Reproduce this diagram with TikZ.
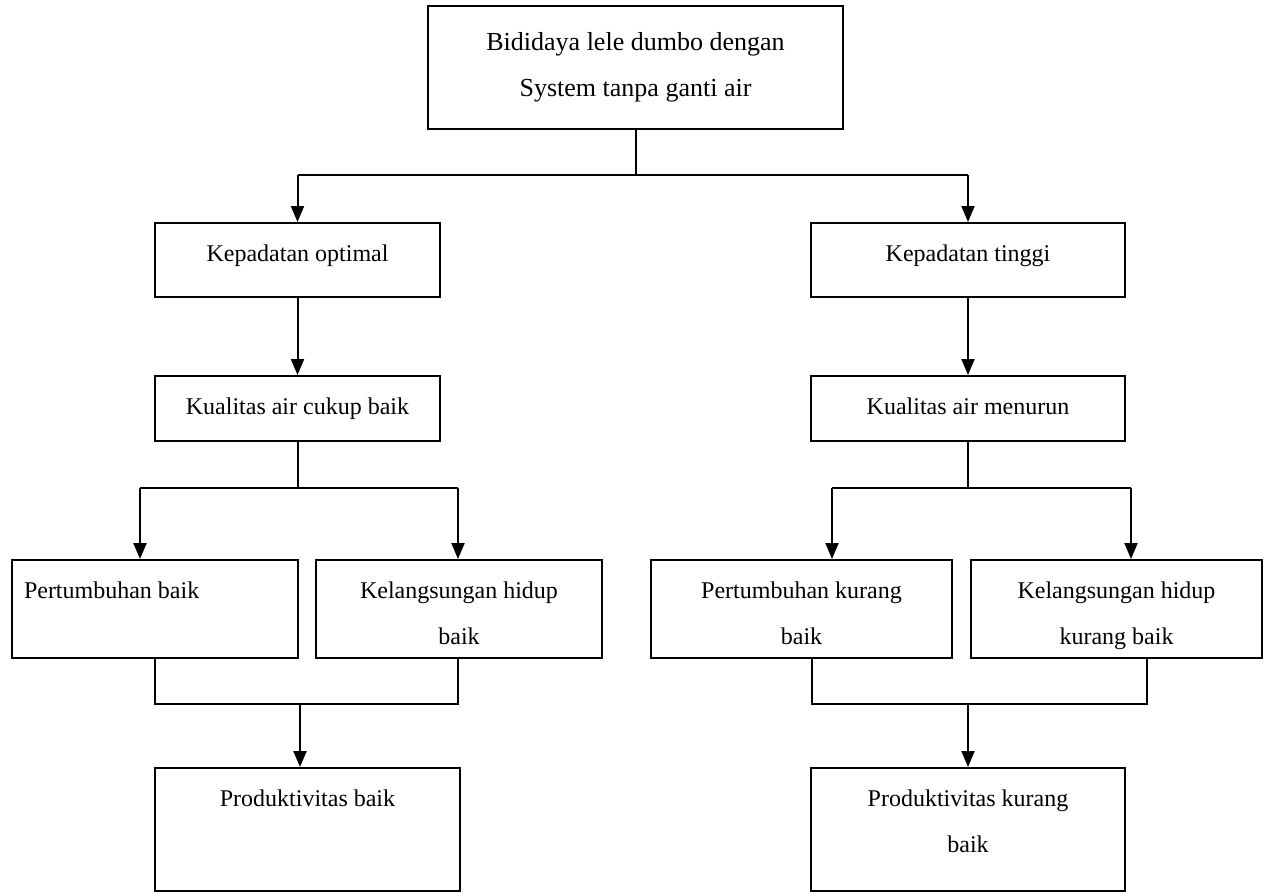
\documentclass[tikz,border=0pt]{standalone}
\usepackage{fontspec}
\setmainfont{Liberation Serif}
\usetikzlibrary{arrows.meta}

\tikzset{
	box/.style={draw,line width=1pt,inner sep=0pt,anchor=north},
	link/.style={line width=1pt},
	arr/.style={line width=1pt,-{Triangle[length=8pt,width=6.5pt]}},
}
\newcommand{\boxtext}[4][19pt]{\begin{minipage}[t][#3][t]{#2}\fontsize{12pt}{23pt}\selectfont\centering\rule{0pt}{#1}#4\end{minipage}}

\begin{document}
\begin{tikzpicture}[x=0.5pt,y=-0.5pt]
	\useasboundingbox (0,0) rectangle (1267,895);
	\node[box] (budidaya) at (635.5,5) {\boxtext[22pt]{207.5pt}{61.5pt}{\fontsize{13pt}{23pt}\selectfont Bididaya lele dumbo dengan\\System tanpa ganti air}};
	\node[box] (optimal) at (297.5,222) {\boxtext{142.5pt}{37pt}{Kepadatan optimal}};
	\node[box] (tinggi) at (968,222) {\boxtext{157pt}{37pt}{Kepadatan tinggi}};
	\node[box] (airbaik) at (297.5,375) {\boxtext{142.5pt}{32.5pt}{Kualitas air cukup baik}};
	\node[box] (airturun) at (968,375) {\boxtext{157pt}{32.5pt}{Kualitas air menurun}};
	\node[box] (tumbuhbaik) at (155,559) {\boxtext{143pt}{49pt}{\raggedright\hspace*{6pt}Pertumbuhan baik}};
	\node[box] (hidupbaik) at (459,559) {\boxtext{143pt}{49pt}{Kelangsungan hidup\\baik}};
	\node[box] (tumbuhkurang) at (801.5,559) {\boxtext{150.5pt}{49pt}{Pertumbuhan kurang\\baik}};
	\node[box] (hidupkurang) at (1116.5,559) {\boxtext{145.5pt}{49pt}{Kelangsungan hidup\\kurang baik}};
	\node[box] (prodbaik) at (307.5,767) {\boxtext{152.5pt}{61.5pt}{Produktivitas baik}};
	\node[box] (prodkurang) at (968,767) {\boxtext{157pt}{61.5pt}{Produktivitas kurang\\baik}};

	\coordinate (cabang) at (635.5,175);
	\coordinate (cabangkiri) at (297.5,175);
	\coordinate (cabangkanan) at (968,175);
	\draw[link] (budidaya.south) -- (cabang);
	\draw[link] (cabangkiri) -- (cabangkanan);
	\draw[arr] (cabangkiri) -- (optimal.north);
	\draw[arr] (cabangkanan) -- (tinggi.north);
	\draw[arr] (optimal.south) -- (airbaik.north);
	\draw[arr] (tinggi.south) -- (airturun.north);

	\coordinate (kiria) at (140,488);
	\coordinate (kirib) at (458,488);
	\coordinate (kanana) at (832,488);
	\coordinate (kananb) at (1131,488);
	\draw[link] (airbaik.south) -- (airbaik.south |- kiria);
	\draw[link] (kiria) -- (kirib);
	\draw[arr] (kiria) -- (kiria |- tumbuhbaik.north);
	\draw[arr] (kirib) -- (kirib |- hidupbaik.north);
	\draw[link] (airturun.south) -- (airturun.south |- kanana);
	\draw[link] (kanana) -- (kananb);
	\draw[arr] (kanana) -- (kanana |- tumbuhkurang.north);
	\draw[arr] (kananb) -- (kananb |- hidupkurang.north);

	\coordinate (gabungkiria) at (155,704);
	\coordinate (gabungkirib) at (458,704);
	\coordinate (gabungkiri) at (300,704);
	\coordinate (gabungkanana) at (812,704);
	\coordinate (gabungkananb) at (1147,704);
	\coordinate (gabungkanan) at (968,704);
	\draw[link] (gabungkiria |- tumbuhbaik.south) -- (gabungkiria) -- (gabungkirib) -- (gabungkirib |- hidupbaik.south);
	\draw[arr] (gabungkiri) -- (gabungkiri |- prodbaik.north);
	\draw[link] (gabungkanana |- tumbuhkurang.south) -- (gabungkanana) -- (gabungkananb) -- (gabungkananb |- hidupkurang.south);
	\draw[arr] (gabungkanan) -- (prodkurang.north);
\end{tikzpicture}
\end{document}
